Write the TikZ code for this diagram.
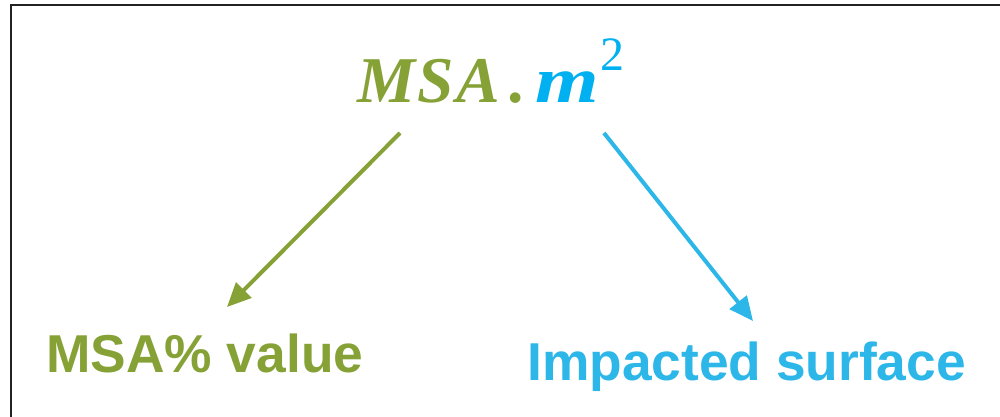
\documentclass[tikz,border=0pt]{standalone}
\usepackage{fontspec}
\usepackage{graphicx}
\setmainfont{Liberation Serif}
\newfontfamily\labelfont{Liberation Sans}
\usetikzlibrary{arrows.meta}
\definecolor{msagreen}{HTML}{86A236}
\definecolor{areablue}{HTML}{2DB6E8}
\definecolor{mblue}{HTML}{00B0F0}
\definecolor{framegray}{HTML}{222222}
\tikzset{
  label text/.style={inner sep=0pt, font=\labelfont\bfseries\fontsize{40}{48}\selectfont},
  link/.style={line width=3pt, -{Triangle[length=18pt,width=16pt]}},
}
\begin{document}
\begin{tikzpicture}[x=0.75pt,y=-0.75pt]
  \useasboundingbox (0,0) rectangle (1000,417);
  \clip (0,0) rectangle (1000,417);
  % frame
  \draw[framegray, line width=1.6pt] (11,5) rectangle (1020,440);
  % formula
  \node[anchor=base west, inner sep=0pt, font=\fontsize{49}{56}\selectfont] (formula) at (357,103)
    {\textcolor{msagreen}{\textbf{\textit{M\kern2pt S\kern2pt A}}\kern5pt\textbf{.}}\kern9pt\textcolor{mblue}{\scalebox{1.25}[1]{\textbf{\textit{m}}}\kern1pt\raisebox{0.5em}{\fontsize{36}{42}\selectfont 2}}};
  % labels
  \node[label text, anchor=base west, text=msagreen] (value) at (46,372) {MSA\% value};
  \node[label text, anchor=base west, text=areablue] (surface) at (527,380) {Impacted surface};
  % connectors
  \coordinate (gs) at (400,133);
  \coordinate (ge) at (227,307);
  \coordinate (bs) at (604,133);
  \coordinate (be) at (753,321);
  \draw[link, msagreen] (gs) -- (ge);
  \draw[link, areablue] (bs) -- (be);
\end{tikzpicture}
\end{document}
